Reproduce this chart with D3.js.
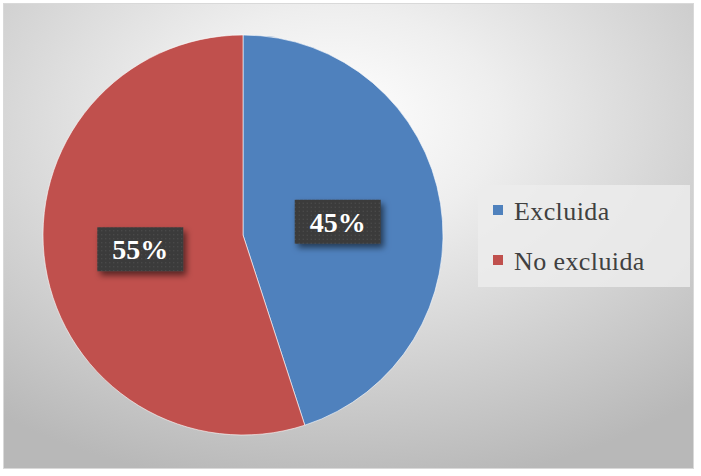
<!DOCTYPE html>
<html>
<head>
<meta charset="utf-8">
<script src="https://cdn.jsdelivr.net/npm/d3@7"></script>
<style>
  body { margin: 0; background: #fff; }
</style>
</head>
<body>
<div id="chart"></div>
<script>
let categories = ['Excluida', 'No excluida'];
let values = [45, 55];
let colors = ['#4F81BD', '#C0504D'];

let serif = "'Times New Roman', 'Liberation Serif', Times, 'DejaVu Serif', 'Noto Serif', serif";

let width = 701, height = 476;
let cx = 243, cy = 235, radius = 200;

let svg = d3.select('#chart')
  .append('svg')
  .attr('width', width)
  .attr('height', height);

let defs = svg.append('defs');

let grad = defs.append('radialGradient')
  .attr('id', 'bg')
  .attr('cx', '48%').attr('cy', '25%').attr('r', '80%');
grad.append('stop').attr('offset', '0%').attr('stop-color', '#ffffff');
grad.append('stop').attr('offset', '30%').attr('stop-color', '#eeeeee');
grad.append('stop').attr('offset', '100%').attr('stop-color', '#b8b8b8');

let pat = defs.append('pattern')
  .attr('id', 'dots')
  .attr('width', 4).attr('height', 4)
  .attr('patternUnits', 'userSpaceOnUse');
pat.append('rect').attr('width', 4).attr('height', 4).attr('fill', '#3b3b3b');
pat.append('rect').attr('x', 1).attr('y', 1).attr('width', 1).attr('height', 1).attr('fill', '#555');

let shadow = defs.append('filter').attr('id', 'shadow')
  .attr('x', '-20%').attr('y', '-20%').attr('width', '150%').attr('height', '160%');
shadow.append('feDropShadow')
  .attr('dx', 3).attr('dy', 4).attr('stdDeviation', 3)
  .attr('flood-color', '#000').attr('flood-opacity', 0.55);

// chart area
svg.append('rect')
  .attr('x', 3.5).attr('y', 3.5)
  .attr('width', 690).attr('height', 465)
  .attr('fill', 'url(#bg)')
  .attr('stroke', '#d9d9d9');

let pie = d3.pie().sort(null).value(d => d);
let arcs = pie(values);
let arc = d3.arc().innerRadius(0).outerRadius(radius);

let g = svg.append('g').attr('transform', `translate(${cx},${cy})`);

g.selectAll('path')
  .data(arcs)
  .enter()
  .append('path')
  .attr('d', arc)
  .attr('fill', (d, i) => colors[i])
  .attr('stroke', '#fff')
  .attr('stroke-width', 0.6);

// data labels
let labelArc = d3.arc().innerRadius(radius * 0.52).outerRadius(radius * 0.52);
let labels = g.selectAll('.lbl')
  .data(arcs)
  .enter()
  .append('g')
  .attr('class', 'lbl')
  .attr('transform', d => {
    let c = labelArc.centroid(d);
    return `translate(${c[0] + (d.index === 0 ? -8 : 0)},${c[1] + (d.index === 0 ? 3 : -2)})`;
  });

labels.append('rect')
  .attr('x', -43).attr('y', -22)
  .attr('width', 86).attr('height', 44)
  .attr('fill', 'url(#dots)')
  .attr('filter', 'url(#shadow)');

labels.append('text')
  .attr('text-anchor', 'middle')
  .attr('dy', '0.35em')
  .style('font-family', serif)
  .style('font-weight', 'bold')
  .style('font-size', '28px')
  .attr('fill', '#fff')
  .text(d => d.data + '%');

// legend
let legend = svg.append('g').attr('transform', 'translate(478,185)');
legend.append('rect')
  .attr('width', 212).attr('height', 102)
  .attr('fill', '#ececec')
  .attr('opacity', 0.85);

let items = legend.selectAll('.item')
  .data(categories)
  .enter()
  .append('g')
  .attr('class', 'item')
  .attr('transform', (d, i) => `translate(15,${27 + i * 50})`);

items.append('rect')
  .attr('x', 0).attr('y', -7)
  .attr('width', 10).attr('height', 10)
  .attr('fill', (d, i) => colors[i]);

items.append('text')
  .attr('x', 21).attr('y', 8)
  .style('font-family', serif)
  .style('font-size', '26px')
  .style('letter-spacing', '0.4px')
  .attr('fill', '#404040')
  .text(d => d);
</script>
</body>
</html>
